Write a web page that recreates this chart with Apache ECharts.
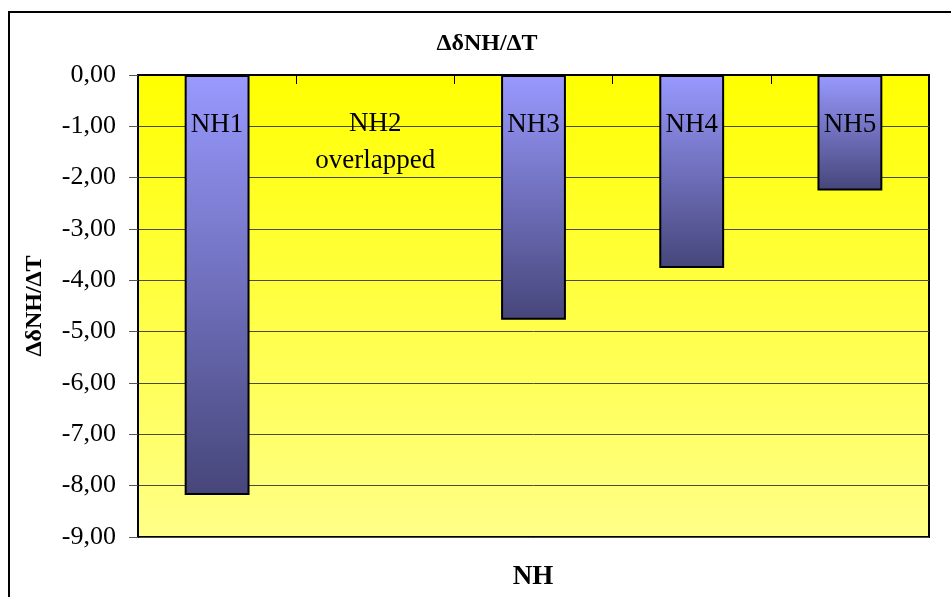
<!DOCTYPE html>
<html>
<head>
<meta charset="utf-8">
<style>
  html, body { margin: 0; padding: 0; background: #fff; }
  #chart { width: 951px; height: 597px; }
</style>
<script src="https://cdn.jsdelivr.net/npm/echarts@6/dist/echarts.min.js"></script>
</head>
<body>
<div id="chart"></div>
<script>
// Temperature coefficients of the amide NH chemical shifts
const categories = ['NH1', 'NH2', 'NH3', 'NH4', 'NH5'];
// NH2 could not be measured (signal overlapped), so it has no value
const shiftCoefficients = [-8.18, null, -4.77, -3.76, -2.25];
// Notes written inside the plot for categories without a bar
const categoryNotes = ['', 'NH2\noverlapped', '', '', ''];

const chartTitle = 'ΔδNH/ΔT';
const yAxisTitle = 'ΔδNH/ΔT';
const xAxisTitle = 'NH';

const serif = '"Liberation Serif", "Times New Roman", serif';

const chart = echarts.init(document.getElementById('chart'), null, { renderer: 'canvas' });

const option = {
  backgroundColor: '#ffffff',
  animation: false,
  graphic: [
    {
      type: 'rect',
      silent: true,
      z: -10,
      shape: { x: 9, y: 12, width: 1000, height: 700 },
      style: { fill: 'none', stroke: '#000', lineWidth: 2 }
    },
    {
      type: 'text',
      x: 487, y: 44,
      style: {
        text: chartTitle, fill: '#000', font: 'bold 24px ' + serif,
        align: 'center', verticalAlign: 'middle'
      }
    },
    {
      type: 'text',
      x: 533, y: 577,
      style: {
        text: xAxisTitle, fill: '#000', font: 'bold 27px ' + serif,
        align: 'center', verticalAlign: 'middle'
      }
    }
  ],
  grid: {
    left: 138, top: 75, right: 22, bottom: 60,
    show: true,
    borderColor: '#000',
    borderWidth: 2,
    backgroundColor: new echarts.graphic.LinearGradient(0, 0, 0, 1, [
      { offset: 0, color: '#FFFF00' },
      { offset: 1, color: '#FFFF88' }
    ])
  },
  xAxis: {
    type: 'category',
    data: categories,
    position: 'top',
    axisLine: { show: true, lineStyle: { color: '#000', width: 2 } },
    axisTick: { show: true, inside: true, length: 9, lineStyle: { color: '#000', width: 1 } },
    axisLabel: {
      show: true,
      inside: true,
      margin: 30,
      interval: 0,
      color: '#000',
      fontFamily: serif,
      fontSize: 27,
      lineHeight: 37,
      formatter: function (value, index) { return categoryNotes[index]; }
    },
    splitLine: { show: false }
  },
  yAxis: {
    type: 'value',
    min: -9,
    max: 0,
    interval: 1,
    name: yAxisTitle,
    nameLocation: 'middle',
    nameGap: 91,
    nameRotate: 90,
    nameTextStyle: { color: '#000', fontFamily: serif, fontWeight: 'bold', fontSize: 24 },
    axisLine: { show: true, lineStyle: { color: '#000', width: 2 } },
    axisTick: { show: true, inside: false, length: 9, lineStyle: { color: '#555', width: 1 } },
    axisLabel: {
      color: '#000',
      fontFamily: serif,
      fontSize: 26,
      margin: 22,
      formatter: function (v) { return v.toFixed(2).replace('.', ','); }
    },
    splitLine: { show: true, lineStyle: { color: '#4a4a30', width: 1 } }
  },
  series: [
    {
      type: 'bar',
      data: shiftCoefficients,
      barWidth: '41%',
      itemStyle: {
        color: new echarts.graphic.LinearGradient(0, 0, 0, 1, [
          { offset: 0, color: '#9999FF' },
          { offset: 1, color: '#46467A' }
        ]),
        borderColor: '#000',
        borderWidth: 2
      },
      label: {
        show: true,
        position: 'insideTop',
        distance: 36,
        formatter: '{b}',
        color: '#000',
        fontFamily: serif,
        fontSize: 27
      }
    }
  ]
};

chart.setOption(option);
</script>
</body>
</html>
